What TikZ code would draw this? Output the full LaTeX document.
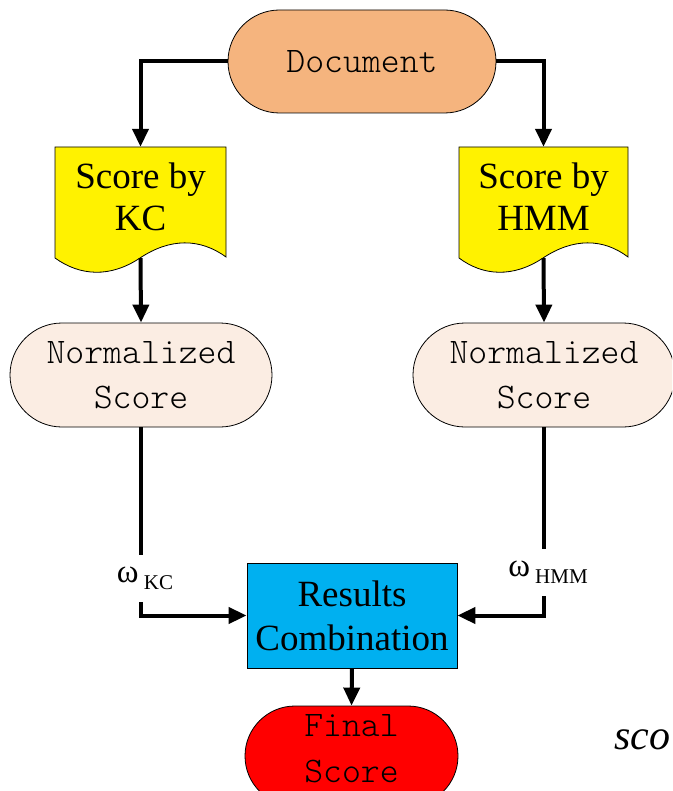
\documentclass[tikz,border=0pt]{standalone}
\usepackage{fontspec}
\setmainfont{Liberation Serif}
\newfontfamily\lmono{lmmonolt10-regular}[Extension=.otf]
\usetikzlibrary{shapes.misc,arrows.meta}
\definecolor{docorange}{RGB}{245,180,126}
\definecolor{normfill}{RGB}{251,237,227}
\definecolor{rescyan}{RGB}{0,176,240}
\tikzset{
  stadium/.style={rounded rectangle, draw=black, line width=0.8pt, align=center,
    font=\lmono\fontsize{36}{45}\selectfont, inner sep=0pt},
  docshape/.style={draw=black, line width=0.8pt, fill=yellow},
  doctext/.style={align=center, font=\fontsize{37}{42}\selectfont, inner sep=0pt,
    minimum width=171pt, minimum height=111pt, text depth=12pt},
  arr/.style={line width=4pt, -{Triangle[length=18pt,width=16pt]}},
  ln/.style={line width=4pt},
  wlabel/.style={inner sep=0pt, minimum height=47pt, font=\fontsize{33}{36}\selectfont}
}
\begin{document}
\begin{tikzpicture}[x=1pt,y=-1pt]
\useasboundingbox (0,0) rectangle (672,791);
\clip (0,0) rectangle (672,791);
% document shapes
\draw[docshape] (55,147) -- (226,147) -- (226,257)
  .. controls (200,238) and (170,238) .. (140,258)
  .. controls (110,278) and (80,276) .. (55,258) -- cycle;
\draw[docshape] (459,147) -- (628,147) -- (628,257)
  .. controls (603,238) and (573,238) .. (543,258)
  .. controls (513,278) and (483,276) .. (459,258) -- cycle;
\node[stadium, fill=docorange, minimum width=268pt, minimum height=103pt] (doc) at (362,61.5) {Document};
\node[doctext] (kc) at (140.5,202.5) {Score by\\KC};
\node[doctext] (hmm) at (543.5,202.5) {Score by\\HMM};
\node[stadium, fill=normfill, minimum width=262pt, minimum height=104pt] (nkc) at (141,375) {Normalized\\Score};
\node[stadium, fill=normfill, minimum width=262pt, minimum height=104pt] (nhmm) at (544,375) {Normalized\\Score};
\node[draw=black, line width=0.8pt, fill=rescyan, minimum width=210pt, minimum height=105pt,
  inner sep=0pt, align=center, font=\fontsize{37}{44}\selectfont] (res) at (352,615.5) {Results\\Combination};
\node[stadium, fill=red, minimum width=213pt, minimum height=100pt, text depth=16pt,
  font=\lmono\fontsize{36}{46}\selectfont] (fin) at (351.5,756) {Final\\Score};
\node[wlabel] (wkc) at (145,578.5) {ω\raisebox{-0.45ex}{\fontsize{21}{22}\selectfont\ KC}};
\node[wlabel] (whmm) at (548,572.5) {ω\raisebox{-0.45ex}{\fontsize{21}{22}\selectfont\ HMM}};
\node[anchor=west, inner sep=0pt, font=\itshape\fontsize{42}{42}\selectfont] (sco) at (614,740) {sco};
% connectors
\draw[arr] (doc.west) -| (kc.north);
\draw[arr] (doc.east) -| (hmm.north);
\draw[arr] (kc.south) -- (nkc.north);
\draw[arr] (hmm.south) -- (nhmm.north);
\draw[ln] (nkc.south) -- (nkc.south |- wkc.north);
\draw[arr] (nkc.south |- wkc.south) |- (res.west);
\draw[ln] (nhmm.south) -- (nhmm.south |- whmm.north);
\draw[arr] (nhmm.south |- whmm.south) |- (res.east);
\draw[arr] (res.south) -- (fin.north);
\end{tikzpicture}
\end{document}
